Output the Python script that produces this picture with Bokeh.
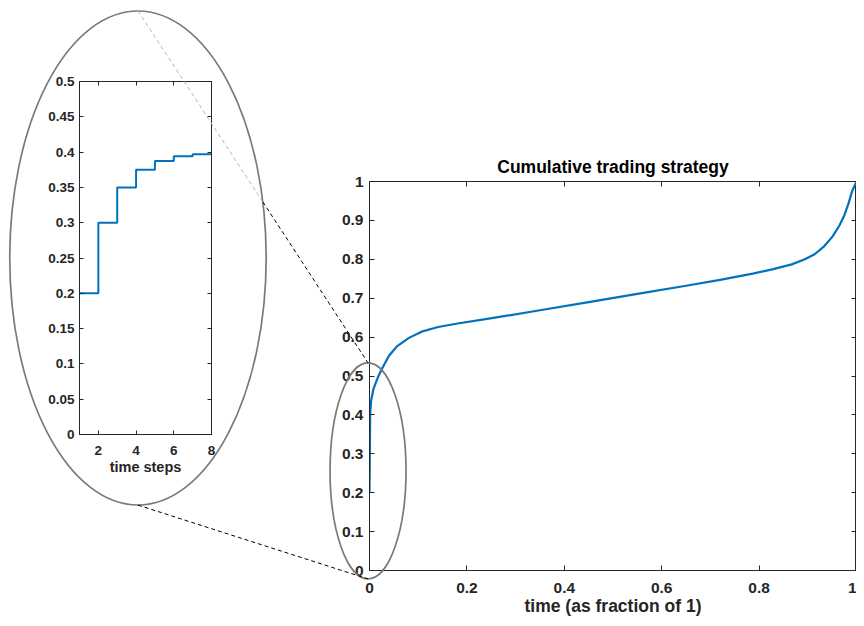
from bokeh.plotting import figure
from bokeh.models import (Range1d, LinearAxis, FixedTicker, CustomJSTickFormatter, Label)
from bokeh.embed import file_html
from bokeh.resources import INLINE

# ---------------- data ----------------
time_frac = [0, 0.0014, 0.0034, 0.008, 0.017, 0.027, 0.04, 0.057, 0.081, 0.107,
             0.141, 0.181, 0.248, 0.35, 0.45, 0.55, 0.65, 0.72, 0.787, 0.827,
             0.867, 0.894, 0.914, 0.934, 0.951, 0.964, 0.974, 0.984, 0.991, 1.0]
cum_strategy = [0.2, 0.402, 0.437, 0.466, 0.496, 0.522, 0.552, 0.577, 0.598, 0.614,
                0.626, 0.635, 0.648, 0.669, 0.690, 0.711, 0.732, 0.747, 0.763, 0.774,
                0.787, 0.800, 0.813, 0.834, 0.859, 0.885, 0.910, 0.945, 0.975, 1.0]

time_steps = [1, 2, 3, 4, 5, 6, 7, 8]
step_values = [0.2, 0.3, 0.35, 0.375, 0.3875, 0.394, 0.397, 0.398]

main_x_ticks = [0, 0.2, 0.4, 0.6, 0.8, 1]
main_x_labels = ["0", "0.2", "0.4", "0.6", "0.8", "1"]
main_y_ticks = [0, 0.1, 0.2, 0.3, 0.4, 0.5, 0.6, 0.7, 0.8, 0.9, 1]
main_y_labels = ["0", "0.1", "0.2", "0.3", "0.4", "0.5", "0.6", "0.7", "0.8", "0.9", "1"]
inset_x_ticks = [2, 4, 6, 8]
inset_x_labels = ["2", "4", "6", "8"]
inset_y_ticks = [0, 0.05, 0.1, 0.15, 0.2, 0.25, 0.3, 0.35, 0.4, 0.45, 0.5]
inset_y_labels = ["0", "0.05", "0.1", "0.15", "0.2", "0.25", "0.3", "0.35", "0.4", "0.45", "0.5"]

title_text = "Cumulative trading strategy"
main_xlabel = "time (as fraction of 1)"
inset_xlabel = "time steps"

# zoom-marker ellipses (centre, radii) in their own axes' data units
small_ell_center, small_ell_radii = (-0.003, 0.258), (0.078, 0.277)   # main axes
big_ell_center, big_ell_radii = (4.1, 0.25), (6.8, 0.35)              # inset axes

# ---------------- layout ----------------
W, H = 848, 610
MAIN_BOX = (361, 848, 173, 563)     # frame left, right, top, bottom (canvas px)
INSET_BOX = (71, 203, 73, 426)
main_xr, main_yr = (0, 1), (0, 1)
inset_xr, inset_yr = (1, 8), (0, 0.5)
TITLE_GAP = 15                      # px from title anchor up to the main frame

FONT = "Liberation Sans"
AX = "#262626"
BLUE = "#0072BD"
ELL = "#7a7a7a"
POS = {"position": "absolute", "left": "8px", "top": "8px"}


def to_px(x, y, box, xr, yr):
    l, r, t, b = box
    return (l + (x - xr[0]) / (xr[1] - xr[0]) * (r - l),
            b - (y - yr[0]) / (yr[1] - yr[0]) * (b - t))


def from_px(px, py, box, xr, yr):
    l, r, t, b = box
    return (xr[0] + (px - l) / (r - l) * (xr[1] - xr[0]),
            yr[0] + (b - py) / (b - t) * (yr[1] - yr[0]))


def canvas_ranges(box, xr, yr):
    """Data ranges that make a full-canvas frame line up with an axes box."""
    x0, y0 = from_px(0, H, box, xr, yr)
    x1, y1 = from_px(W, 0, box, xr, yr)
    return Range1d(x0, x1), Range1d(y0, y1)


def inset_to_main(x, y):
    return from_px(*to_px(x, y, INSET_BOX, inset_xr, inset_yr), MAIN_BOX, main_xr, main_yr)


def main_to_inset(x, y):
    return from_px(*to_px(x, y, MAIN_BOX, main_xr, main_yr), INSET_BOX, inset_xr, inset_yr)


def style_axis(ax, ticks, labels, size, standoff, tick_len, hidden=False):
    ax.ticker = FixedTicker(ticks=ticks)
    if hidden:
        ax.formatter = CustomJSTickFormatter(code="return ''")
        ax.major_label_standoff = 0
    else:
        ax.major_label_overrides = dict(zip(ticks, labels))
        ax.major_label_standoff = standoff
    ax.major_tick_in = tick_len
    ax.major_tick_out = 0
    ax.minor_tick_line_color = None
    ax.major_tick_line_color = AX
    ax.axis_line_color = AX
    ax.axis_line_width = 1
    ax.major_label_text_font = FONT
    ax.major_label_text_font_style = "bold"
    ax.major_label_text_font_size = size
    ax.major_label_text_color = AX


def make_fig(box, xr, yr):
    l, r, t, b = box
    f = figure(width=W, height=H, x_range=Range1d(*xr), y_range=Range1d(*yr),
               output_backend="svg", toolbar_location=None,
               min_border_left=l, min_border_right=W - r,
               min_border_top=t, min_border_bottom=H - b)
    f.grid.visible = False
    f.outline_line_color = AX
    f.outline_line_width = 1
    f.styles = POS   # all layers share one page spot
    return f


# ---------------- main axes (bottom layer) ----------------
p = make_fig(MAIN_BOX, main_xr, main_yr)
p.background_fill_color = "white"
p.border_fill_color = "white"
style_axis(p.xaxis[0], main_x_ticks, main_x_labels, "15.5px", 12, 5)
style_axis(p.yaxis[0], main_y_ticks, main_y_labels, "15.5px", 6, 5)
p.xaxis[0].axis_label = main_xlabel
p.xaxis[0].axis_label_text_font = FONT
p.xaxis[0].axis_label_text_font_style = "bold"
p.xaxis[0].axis_label_text_font_size = "17.5px"
p.xaxis[0].axis_label_text_color = AX
p.xaxis[0].axis_label_standoff = 0
top_ax = LinearAxis()
style_axis(top_ax, main_x_ticks, main_x_labels, "15.5px", 0, 5, hidden=True)
p.add_layout(top_ax, "above")
right_ax = LinearAxis()
style_axis(right_ax, main_y_ticks, main_y_labels, "15.5px", 0, 5, hidden=True)
p.add_layout(right_ax, "right")

p.line(time_frac, cum_strategy, line_color=BLUE, line_width=2.2, line_join="round")

# ---------------- inset axes (middle layer) ----------------
q = make_fig(INSET_BOX, inset_xr, inset_yr)
q.background_fill_color = None
q.border_fill_color = None
style_axis(q.xaxis[0], inset_x_ticks, inset_x_labels, "13.5px", 11, 4)
style_axis(q.yaxis[0], inset_y_ticks, inset_y_labels, "13.5px", 5, 4)
q.xaxis[0].axis_label = inset_xlabel
q.xaxis[0].axis_label_text_font = FONT
q.xaxis[0].axis_label_text_font_style = "bold"
q.xaxis[0].axis_label_text_font_size = "14.5px"
q.xaxis[0].axis_label_text_color = AX
q.xaxis[0].axis_label_standoff = 1
qt = LinearAxis()
style_axis(qt, inset_x_ticks, inset_x_labels, "13.5px", 0, 4, hidden=True)
q.add_layout(qt, "above")
qr = LinearAxis()
style_axis(qr, inset_y_ticks, inset_y_labels, "13.5px", 0, 4, hidden=True)
q.add_layout(qr, "right")

q.step(time_steps, step_values, mode="after", line_color=BLUE, line_width=2)

# ---------------- overlay (top layer): title, zoom ellipses, connectors ----------------
mx, my = canvas_ranges(MAIN_BOX, main_xr, main_yr)
ix, iy = canvas_ranges(INSET_BOX, inset_xr, inset_yr)
o = figure(width=W, height=H, x_range=mx, y_range=my, output_backend="svg",
           toolbar_location=None, x_axis_location=None, y_axis_location=None,
           min_border=0, min_border_left=0, min_border_right=0,
           min_border_top=0, min_border_bottom=0)
o.extra_x_ranges = {"inset": ix}
o.extra_y_ranges = {"inset": iy}
o.grid.visible = False
o.outline_line_color = None
o.background_fill_color = None
o.border_fill_color = None
o.styles = POS

title_y = from_px(0, MAIN_BOX[2] - TITLE_GAP, MAIN_BOX, main_xr, main_yr)[1]
o.add_layout(Label(x=sum(main_xr) / 2, y=title_y, text=title_text, text_align="center",
                   text_baseline="alphabetic", text_font=FONT,
                   text_font_style="bold", text_font_size="17.5px", text_color="black"))

# zoom marker on the main axes and the frame round the inset
o.ellipse(x=[small_ell_center[0]], y=[small_ell_center[1]],
          width=[2 * small_ell_radii[0]], height=[2 * small_ell_radii[1]],
          fill_color=None, line_color=ELL, line_width=1.7)
o.ellipse(x=[big_ell_center[0]], y=[big_ell_center[1]],
          width=[2 * big_ell_radii[0]], height=[2 * big_ell_radii[1]],
          fill_color=None, line_color=ELL, line_width=1.7,
          x_range_name="inset", y_range_name="inset")

# connectors: big ellipse top/bottom -> small ellipse top/bottom
a_top = (big_ell_center[0], big_ell_center[1] + big_ell_radii[1])
a_bot = (big_ell_center[0], big_ell_center[1] - big_ell_radii[1])
b_top = (small_ell_center[0], small_ell_center[1] + small_ell_radii[1])
b_bot = (small_ell_center[0], small_ell_center[1] - small_ell_radii[1])

# where the top connector leaves the big ellipse (solved in inset units)
bt_in = main_to_inset(*b_top)
ux, uy = a_top[0] - big_ell_center[0], a_top[1] - big_ell_center[1]
dx, dy = bt_in[0] - a_top[0], bt_in[1] - a_top[1]
rx, ry = big_ell_radii
tcut = -2 * (ux * dx / rx**2 + uy * dy / ry**2) / (dx**2 / rx**2 + dy**2 / ry**2)
cut_in = (a_top[0] + tcut * dx, a_top[1] + tcut * dy)

a_top_m = inset_to_main(*a_top)
a_bot_m = inset_to_main(*a_bot)
cut_m = inset_to_main(*cut_in)

o.segment(x0=[a_top_m[0]], y0=[a_top_m[1]], x1=[cut_m[0]], y1=[cut_m[1]],
          line_color="#b4b4b4", line_width=1, line_dash="4 3")
o.segment(x0=[cut_m[0], a_bot_m[0]], y0=[cut_m[1], a_bot_m[1]],
          x1=[b_top[0], b_bot[0]], y1=[b_top[1], b_bot[1]],
          line_color="black", line_width=1, line_dash="4 3")

open("out.html", "w").write(file_html([p, q, o], INLINE))
